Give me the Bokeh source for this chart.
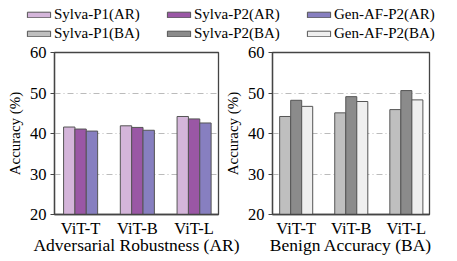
import numpy as np
from bokeh.plotting import figure
from bokeh.layouts import column, row
from bokeh.models import Range1d, FixedTicker, Legend, LegendItem
from bokeh.embed import file_html
from bokeh.resources import INLINE

models = ["ViT-T", "ViT-B", "ViT-L"]
series_ar = ["Sylva-P1(AR)", "Sylva-P2(AR)", "Gen-AF-P2(AR)"]
series_ba = ["Sylva-P1(BA)", "Sylva-P2(BA)", "Gen-AF-P2(BA)"]
sylva_p1_ar = [41.6, 41.9, 44.2]
sylva_p2_ar = [41.1, 41.5, 43.6]
genaf_p2_ar = [40.6, 40.8, 42.6]
sylva_p1_ba = [44.2, 45.1, 45.9]
sylva_p2_ba = [48.2, 49.1, 50.6]
genaf_p2_ba = [46.7, 47.9, 48.3]
y_ticks = [20, 30, 40, 50, 60]

colors_ar = ["#d4b5da", "#9a57a5", "#877fc0"]
colors_ba = ["#bfbfbf", "#8b8b8b", "#efefef"]
FONT = "Liberation Serif"
EDGE = "#555555"
BAR_W = 0.2
OFFSETS = [-0.2, 0.0, 0.2]
LIFT = 8


def make_panel(values, colors, xlabel, xr, bl, fw, br):
    bt, fh, bb = 4 + LIFT, 162, 45
    p = figure(width=bl + fw + br, height=bt + fh + bb,
               x_range=Range1d(*xr), y_range=Range1d(20, 60),
               output_backend="svg", toolbar_location=None,
               min_border_left=bl, min_border_right=br,
               min_border_top=bt, min_border_bottom=bb)
    xs = np.arange(len(models))
    for vals, col, off in zip(values, colors, OFFSETS):
        p.vbar(x=xs + off, top=vals, bottom=20, width=BAR_W,
               fill_color=col, line_color=EDGE, line_width=1)
    p.border_fill_alpha = 0
    p.outline_line_color = "#444444"
    p.outline_line_width = 1.3
    p.xgrid.grid_line_color = None
    p.ygrid.grid_line_color = "#bbbbbb"
    p.ygrid.grid_line_dash = "6 3 1 3"
    p.ygrid.grid_line_width = 1
    p.yaxis.ticker = FixedTicker(ticks=y_ticks)
    p.xaxis.ticker = FixedTicker(ticks=list(xs))
    p.xaxis.major_label_overrides = {int(i): m for i, m in zip(xs, models)}
    for ax in (p.xaxis[0], p.yaxis[0]):
        ax.axis_line_color = "#444444"
        ax.axis_line_width = 1.3
        ax.major_label_text_font = FONT
        ax.major_label_text_font_size = "16.5px"
        ax.major_label_text_color = "black"
        ax.axis_label_text_font = FONT
        ax.axis_label_text_font_style = "normal"
        ax.axis_label_text_color = "black"
        ax.minor_tick_line_color = None
    p.xaxis.axis_label_text_font_size = "17.5px"
    p.yaxis.axis_label_text_font_size = "15px"
    p.xaxis.major_tick_line_color = None
    p.xaxis.major_tick_out = 0
    p.xaxis.major_label_standoff = 4
    p.xaxis.axis_label_standoff = -6
    p.xaxis.axis_label = xlabel
    p.yaxis.major_tick_out = 4
    p.yaxis.major_tick_in = 0
    p.yaxis.major_tick_line_color = "#444444"
    p.yaxis.major_label_standoff = 4
    p.yaxis.axis_label_standoff = 4
    p.yaxis.axis_label = "Accuracy (%)"
    return p


OVERLAP = 23
p1 = make_panel([sylva_p1_ar, sylva_p2_ar, genaf_p2_ar], colors_ar,
                "Adversarial Robustness (AR)", (-0.46, 2.43), 54, 164, 3 + OVERLAP)
p2 = make_panel([sylva_p1_ba, sylva_p2_ba, genaf_p2_ba], colors_ba,
                "Benign Accuracy (BA)", (-0.43, 2.42), 46, 162, 10)
p1.margin = (-LIFT, 0, 0, 0)
p2.margin = (-LIFT, 0, 0, -OVERLAP)

leg = figure(width=439, height=48, x_range=Range1d(0, 1), y_range=Range1d(0, 1),
             output_backend="svg", toolbar_location=None,
             min_border=0, min_border_left=0, min_border_right=0,
             min_border_top=0, min_border_bottom=0)
leg.axis.visible = False
leg.grid.grid_line_color = None
leg.outline_line_color = None


def legend_row(names, colors, loc):
    items = []
    for name, col in zip(names, colors):
        r = leg.vbar(x=[-10], top=[-10], bottom=[-11], width=0.1,
                     fill_color=col, line_color=EDGE, line_width=1)
        items.append(LegendItem(label=name, renderers=[r]))
    lg = Legend(items=items, orientation="horizontal", location=loc,
                glyph_width=29, glyph_height=7, label_standoff=1, label_width=108,
                label_height=14, spacing=2, padding=0, margin=0,
                label_text_font=FONT, label_text_font_size="15px",
                label_text_color="black", border_line_color=None,
                background_fill_alpha=0)
    leg.add_layout(lg, "center")


legend_row(series_ar, colors_ar, (24, 25))
legend_row(series_ba, colors_ba, (24, 6))

layout = column(leg, row(p1, p2, spacing=0), spacing=0)
open("out.html", "w").write(file_html(layout, INLINE))
